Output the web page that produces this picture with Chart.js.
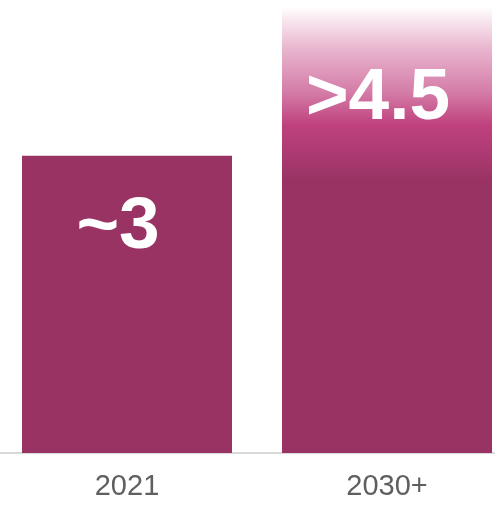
<!DOCTYPE html>
<html>
<head>
<meta charset="utf-8">
<script src="https://cdn.jsdelivr.net/npm/chart.js@4"></script>
<style>
  html, body { margin: 0; padding: 0; background: #ffffff; overflow: hidden; width: 495px; height: 506px; }
  #wrap { position: absolute; left: -3px; top: 0; width: 520px; height: 506px; }
</style>
</head>
<body>
<div id="wrap"><canvas id="c"></canvas></div>
<script>
const categories = ['2021', '2030+'];
const values = [3, 4.5];
const valueLabels = ['~3', '>4.5'];

const BAR = '#993363';

function barFill(ctx) {
  if (ctx.type !== 'data') return BAR;
  if (ctx.dataIndex !== 1) return BAR;
  const chart = ctx.chart;
  const ys = chart.scales.y;
  if (!ys || !chart.chartArea) return BAR;
  const top = ys.getPixelForValue(values[1]);
  const bot = ys.getPixelForValue(2.75);
  const g = chart.ctx.createLinearGradient(0, top, 0, bot);
  g.addColorStop(0.00, '#ffffff');
  g.addColorStop(0.07, '#f8e8f0');
  g.addColorStop(0.25, '#e8b3cc');
  g.addColorStop(0.50, '#d37aa6');
  g.addColorStop(0.68, '#bf417d');
  g.addColorStop(0.84, '#ad3a73');
  g.addColorStop(1.00, BAR);
  return g;
}

const labelPlugin = {
  id: 'valueLabels',
  afterDatasetsDraw(chart) {
    const meta = chart.getDatasetMeta(0);
    const c = chart.ctx;
    const offsets = [70, 90];
    c.save();
    c.fillStyle = '#ffffff';
    c.font = 'bold 73px "Liberation Sans", Arial, sans-serif';
    c.textAlign = 'center';
    c.textBaseline = 'middle';
    meta.data.forEach((bar, i) => {
      c.fillText(valueLabels[i], bar.x - 9, bar.y + offsets[i] + 2);
    });
    c.restore();
  }
};

new Chart(document.getElementById('c'), {
  type: 'bar',
  data: {
    labels: categories,
    datasets: [{
      data: values,
      backgroundColor: barFill,
      borderWidth: 0,
      barPercentage: 210 / 260,
      categoryPercentage: 1
    }]
  },
  options: {
    responsive: true,
    maintainAspectRatio: false,
    animation: false,
    layout: { padding: { top: 7, left: 0, right: 0, bottom: 0 } },
    plugins: { legend: { display: false }, tooltip: { enabled: false } },
    scales: {
      y: { display: false, min: 0, max: 4.5 },
      x: {
        grid: { display: false, drawTicks: false },
        border: { display: true, color: '#d9d9d9', width: 2 },
        ticks: {
          color: '#5f5f5f',
          padding: 17,
          font: { family: '"Liberation Sans", Arial, sans-serif', size: 29 }
        },
        afterFit(scale) { scale.height = 53; }
      }
    }
  },
  plugins: [labelPlugin]
});
</script>
</body>
</html>
